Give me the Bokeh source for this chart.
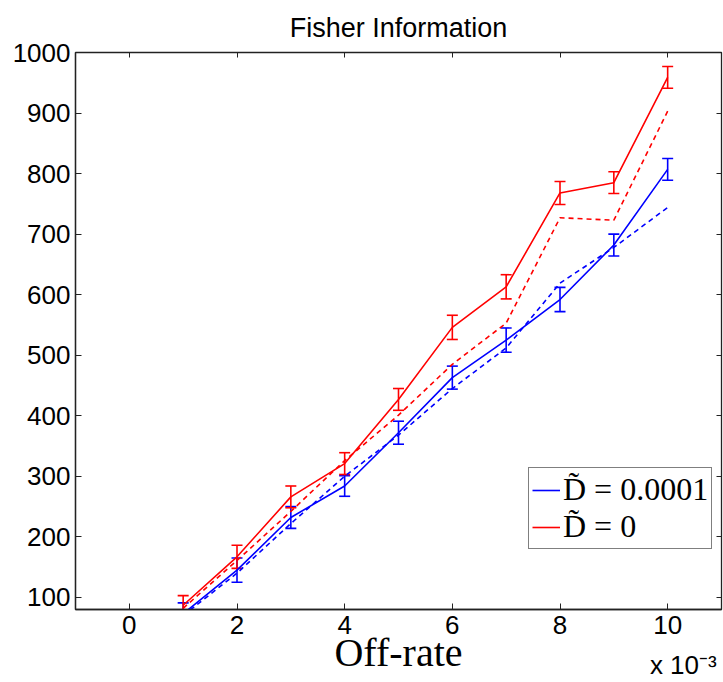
from bokeh.plotting import figure
from bokeh.models import (ColumnDataSource, Whisker, TeeHead, FixedTicker, LinearAxis,
                          Legend, LegendItem, CustomJSTickFormatter, Range1d)
from bokeh.embed import file_html
from bokeh.resources import INLINE

# ---- data ----
offrate = [0.001, 0.002, 0.003, 0.004, 0.005, 0.006, 0.007, 0.008, 0.009, 0.010]

blue_mean = [73, 145, 232, 284, 372, 463, 525, 592, 682, 807]      # D~ = 0.0001, simulated
blue_err = [18, 20, 18, 17, 19, 19, 20, 20, 18, 18]
blue_dashed = [70, 140, 222, 300, 368, 445, 512, 619, 678, 744]    # D~ = 0.0001, theory

red_mean = [87, 167, 266, 321, 427, 546, 613, 768, 785, 959]       # D~ = 0, simulated
red_err = [16, 19, 18, 18, 18, 20, 20, 19, 18, 18]
red_dashed = [82, 161, 242, 326, 401, 485, 553, 727, 723, 903]     # D~ = 0, theory

x_ticks = [0, 0.002, 0.004, 0.006, 0.008, 0.010]
y_ticks = [100, 200, 300, 400, 500, 600, 700, 800, 900, 1000]
exponent_text = "x 10\u207b\u00b3"

BLUE = "#0000ff"
RED = "#ff0000"
SANS = "Liberation Sans"
SERIF = "Liberation Serif"

p = figure(width=723, height=682, output_backend="svg", toolbar_location=None,
           x_range=Range1d(-0.001, 0.011), y_range=Range1d(80, 1000),
           min_border_left=75, min_border_right=2, min_border_top=52, min_border_bottom=72)

p.title.text = "Fisher Information"
p.title.align = "center"
p.title.text_font = SANS
p.title.text_font_size = "27px"
p.title.text_font_style = "normal"
p.title.text_color = "black"
p.title.standoff = 19

p.xgrid.visible = False
p.ygrid.visible = False
p.outline_line_color = "#222222"
p.outline_line_width = 1.3
p.background_fill_color = "white"
p.border_fill_color = "white"

def style_axis(ax):
    ax.axis_line_color = "#222222"
    ax.axis_line_width = 1.3
    ax.major_tick_in = 6
    ax.major_tick_out = 0
    ax.major_tick_line_color = "#222222"
    ax.minor_tick_line_color = None
    ax.major_label_text_font = SANS
    ax.major_label_text_font_size = "26px"
    ax.major_label_text_color = "black"

xa = p.xaxis[0]
style_axis(xa)
xa.ticker = FixedTicker(ticks=x_ticks)
xa.formatter = CustomJSTickFormatter(code="return (tick*1000).toFixed(0);")
xa.major_label_standoff = 6
xa.axis_label = "Off-rate"
xa.axis_label_text_font = SERIF
xa.axis_label_text_font_size = "40px"
xa.axis_label_text_font_style = "normal"
xa.axis_label_text_color = "black"
xa.axis_label_standoff = -7

ya = p.yaxis[0]
style_axis(ya)
ya.ticker = FixedTicker(ticks=y_ticks)
ya.major_label_standoff = 5

# box ticks on right and top (no labels)
ra = LinearAxis(ticker=FixedTicker(ticks=y_ticks), formatter=CustomJSTickFormatter(code="return '';"))
style_axis(ra)
ra.major_tick_in = 5
ra.major_label_standoff = 0
ra.major_label_text_font_size = "0px"
ra.axis_line_color = None
p.add_layout(ra, "right")

ta = LinearAxis(ticker=FixedTicker(ticks=x_ticks), formatter=CustomJSTickFormatter(code="return '';"))
style_axis(ta)
ta.major_tick_in = 5
ta.major_label_standoff = 0
ta.major_label_text_font_size = "0px"
ta.axis_line_color = None
p.add_layout(ta, "above")

# scale factor note "x 10^-3" under the right end of the x axis
ea = LinearAxis(ticker=FixedTicker(ticks=[0.01029]),
                formatter=CustomJSTickFormatter(code="return '%s';" % exponent_text))
ea.axis_line_color = None
ea.major_tick_line_color = None
ea.minor_tick_line_color = None
ea.major_tick_in = 0
ea.major_tick_out = 0
ea.major_label_text_font = SANS
ea.major_label_text_font_size = "26px"
ea.major_label_text_color = "black"
ea.major_label_standoff = -28
p.add_layout(ea, "below")

def series(mean, err, dashed, color):
    src = ColumnDataSource(dict(
        x=offrate, y=mean, dashed=dashed,
        upper=[m + e for m, e in zip(mean, err)],
        lower=[m - e for m, e in zip(mean, err)]))
    p.line("x", "dashed", source=src, line_color=color, line_width=1.6, line_dash="5 4")
    sl = p.line("x", "y", source=src, line_color=color, line_width=1.6)
    w = Whisker(source=src, base="x", upper="upper", lower="lower",
                line_color=color, line_width=1.6,
                upper_head=TeeHead(size=11, line_color=color, line_width=1.6),
                lower_head=TeeHead(size=11, line_color=color, line_width=1.6))
    p.add_layout(w)
    return sl

b_line = series(blue_mean, blue_err, blue_dashed, BLUE)
r_line = series(red_mean, red_err, red_dashed, RED)

legend = Legend(items=[LegendItem(label="D\u0303 = 0.0001", renderers=[b_line]),
                       LegendItem(label="D\u0303 = 0", renderers=[r_line])],
                location=(453, 60))
legend.label_text_font = SERIF
legend.label_text_font_size = "32px"
legend.label_text_color = "black"
legend.glyph_width = 28
legend.label_standoff = 3
legend.padding = 3
legend.spacing = 0
legend.margin = 0
legend.border_line_color = "black"
legend.border_line_width = 1.3
legend.background_fill_alpha = 1.0
p.add_layout(legend)

open("out.html", "w").write(file_html(p, INLINE))
